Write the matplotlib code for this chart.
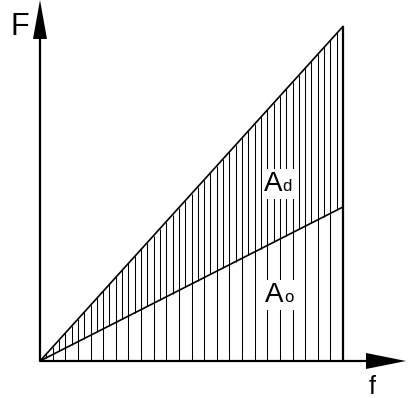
import numpy as np
import matplotlib
matplotlib.use('Agg')
import matplotlib.pyplot as plt
from matplotlib.offsetbox import TextArea, HPacker, AnnotationBbox

# datos del diagrama
f_fin = 24.0            # frecuencia maxima
F_d_fin = 26.5          # fuerza total (recta superior) en f_fin
F_o_fin = 12.2          # fuerza recta inferior en f_fin
f_rayado = np.arange(1, 24)           # lineas verticales completas
f_rayado_medio = np.arange(0.5, 24, 1.0)  # lineas en zona superior
etiquetas = ['A', 'd', 'o']

px = 12.625  # pixeles por unidad

fig = plt.figure(figsize=(4.08, 3.98), dpi=100)
ax = fig.add_axes([0, 0, 1, 1])
ax.set_xlim(-40 / px, 368 / px)
ax.set_ylim(-37 / px, 361 / px)
ax.axis('off')

plt.rcParams['font.family'] = ['Liberation Sans', 'DejaVu Sans']

def sup(f):
    return F_d_fin * f / f_fin

def inf(f):
    return F_o_fin * f / f_fin

# rayado vertical
ax.vlines(f_rayado, 0, sup(f_rayado), color='black', lw=0.75)
ax.vlines(f_rayado_medio, inf(f_rayado_medio), sup(f_rayado_medio), color='black', lw=0.75)
ax.vlines([f_fin], 0, F_d_fin, color='black', lw=1.6)

# rectas
ax.plot([0, f_fin], [0, F_d_fin], color='black', lw=1.2)
ax.plot([0, f_fin], [0, F_o_fin], color='black', lw=1.2)

# ejes con flechas
y_top = 361 / px
x_tip = 366 / px
ax.arrow(0, 0, 0, y_top, width=2.2 / px, head_width=14 / px, head_length=39 / px,
         length_includes_head=True, fc='black', ec='none', clip_on=False)
ax.arrow(0, 0, x_tip, 0, width=2.2 / px, head_width=16 / px, head_length=40 / px,
         length_includes_head=True, fc='black', ec='none', clip_on=False)

ax.text(-1.58, 26.45, 'F', fontsize=22, ha='center', va='center')
ax.text(26.3, -2.05, 'f', fontsize=18, ha='center', va='center')

# etiquetas de areas
def etiqueta(x, y, sub):
    caja = HPacker(children=[TextArea(etiquetas[0], textprops=dict(size=20, family='Liberation Sans')),
                             TextArea(sub, textprops=dict(size=12, family='Liberation Sans'))],
                   align='baseline', pad=0, sep=0)
    ab = AnnotationBbox(caja, (x, y), frameon=True, pad=0.15,
                        bboxprops=dict(fc='white', ec='none'))
    ax.add_artist(ab)

etiqueta(18.85, 14.0, etiquetas[1])
etiqueta(18.95, 5.2, etiquetas[2])

fig.savefig('out.png', dpi=100)
